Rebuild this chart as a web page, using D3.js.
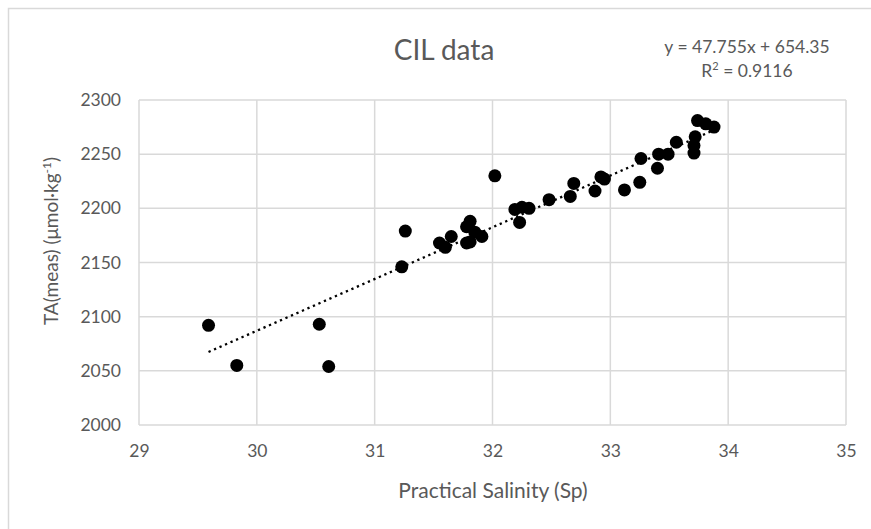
<!DOCTYPE html>
<html>
<head>
<meta charset="utf-8">
<script src="https://cdn.jsdelivr.net/npm/d3@7"></script>
<style>
  html, body { margin: 0; padding: 0; background: #fff; }
  svg { display: block; font-family: Lato, "Open Sans", sans-serif; }
</style>
</head>
<body>
<svg id="chart" width="871" height="529"></svg>
<script>
// data
const salinity = [
  29.59, 29.83, 30.53, 30.61, 31.23, 31.26, 31.55, 31.65, 31.60, 31.81,
  31.78, 31.91, 31.81, 31.85, 31.78, 32.02, 32.19, 32.25, 32.31, 32.23,
  32.48, 32.66, 32.69, 32.87, 32.92, 32.95, 33.12, 33.25, 33.26, 33.40,
  33.41, 33.49, 33.56, 33.71, 33.71, 33.72, 33.74, 33.81, 33.88
];
const alkalinity = [
  2092, 2055, 2093, 2054, 2146, 2179, 2168, 2174, 2164, 2188,
  2183, 2174, 2169, 2178, 2168, 2230, 2199, 2201, 2200, 2187,
  2208, 2211, 2223, 2216, 2229, 2227, 2217, 2224, 2246, 2237,
  2250, 2250, 2261, 2251, 2258, 2266, 2281, 2278, 2275
];
const xTicks = [29, 30, 31, 32, 33, 34, 35];
const yTicks = [2000, 2050, 2100, 2150, 2200, 2250, 2300];
const slope = 47.755;
const intercept = 654.35;
const eqLabel = "y = 47.755x + 654.35";
const r2Label = "0.9116";

const svg = d3.select("#chart");
const textColor = "#595959";
const gridColor = "#d9d9d9";

// chart area border
svg.append("rect")
  .attr("x", 8.5).attr("y", 8.5)
  .attr("width", 900).attr("height", 600)
  .attr("fill", "none")
  .attr("stroke", gridColor)
  .attr("stroke-width", 1.5);

const plot = { left: 139, right: 846, top: 100, bottom: 425 };

const x = d3.scaleLinear().domain([29, 35]).range([plot.left, plot.right]);
const y = d3.scaleLinear().domain([2000, 2300]).range([plot.bottom, plot.top]);

// gridlines
svg.append("g")
  .selectAll("line")
  .data(yTicks)
  .join("line")
  .attr("x1", plot.left).attr("x2", plot.right)
  .attr("y1", d => y(d)).attr("y2", d => y(d))
  .attr("stroke", gridColor)
  .attr("stroke-width", 1.5);

svg.append("g")
  .selectAll("line")
  .data(xTicks)
  .join("line")
  .attr("y1", plot.top).attr("y2", plot.bottom)
  .attr("x1", d => x(d)).attr("x2", d => x(d))
  .attr("stroke", gridColor)
  .attr("stroke-width", 1.5);

// axes (labels only, lines are the grid)
const xAxis = svg.append("g")
  .attr("transform", `translate(0,${plot.bottom})`)
  .call(d3.axisBottom(x).tickValues(xTicks).tickSize(0).tickPadding(20).tickFormat(d3.format("d")));
const yAxis = svg.append("g")
  .attr("transform", `translate(${plot.left},0)`)
  .call(d3.axisLeft(y).tickValues(yTicks).tickSize(0).tickPadding(18).tickFormat(d3.format("d")));

[xAxis, yAxis].forEach(a => {
  a.select(".domain").remove();
  a.selectAll("text")
    .attr("fill", textColor)
    .style("font-size", "17.5px")
    .style("font-family", "Lato, sans-serif");
});

// trendline over the data range
const [xMin, xMax] = d3.extent(salinity);
svg.append("line")
  .attr("x1", x(xMin)).attr("y1", y(slope * xMin + intercept))
  .attr("x2", x(xMax)).attr("y2", y(slope * xMax + intercept))
  .attr("stroke", "#000")
  .attr("stroke-width", 2.3)
  .attr("stroke-dasharray", "2.3,3.7");

// points
svg.append("g")
  .selectAll("circle")
  .data(salinity.map((s, i) => [s, alkalinity[i]]))
  .join("circle")
  .attr("cx", d => x(d[0]))
  .attr("cy", d => y(d[1]))
  .attr("r", 6.5)
  .attr("fill", "#000");

// title
svg.append("text")
  .attr("x", 444).attr("y", 60)
  .attr("text-anchor", "middle")
  .attr("fill", textColor)
  .style("font-size", "28px")
  .text("CIL data");

// equation label
const eq = svg.append("text")
  .attr("text-anchor", "middle")
  .attr("fill", textColor)
  .style("font-size", "17.5px");
eq.append("tspan").attr("x", 747).attr("y", 53).text(eqLabel);
const r2 = eq.append("tspan").attr("x", 747).attr("y", 77);
r2.append("tspan").text("R");
r2.append("tspan").attr("dy", -7).style("font-size", "11px").text("2");
r2.append("tspan").attr("dy", 7).text(" = " + r2Label);

// axis titles
svg.append("text")
  .attr("x", 493).attr("y", 498)
  .attr("text-anchor", "middle")
  .attr("fill", textColor)
  .style("font-size", "21px")
  .text("Practical Salinity (Sp)");

const yTitle = svg.append("text")
  .attr("transform", "translate(58,241) rotate(-90)")
  .attr("text-anchor", "middle")
  .attr("fill", textColor)
  .style("font-size", "19px");
yTitle.append("tspan").text("TA(meas) (μmol·kg");
yTitle.append("tspan").attr("dy", -7).style("font-size", "12px").text("-1");
yTitle.append("tspan").attr("dy", 7).text(")");
</script>
</body>
</html>
